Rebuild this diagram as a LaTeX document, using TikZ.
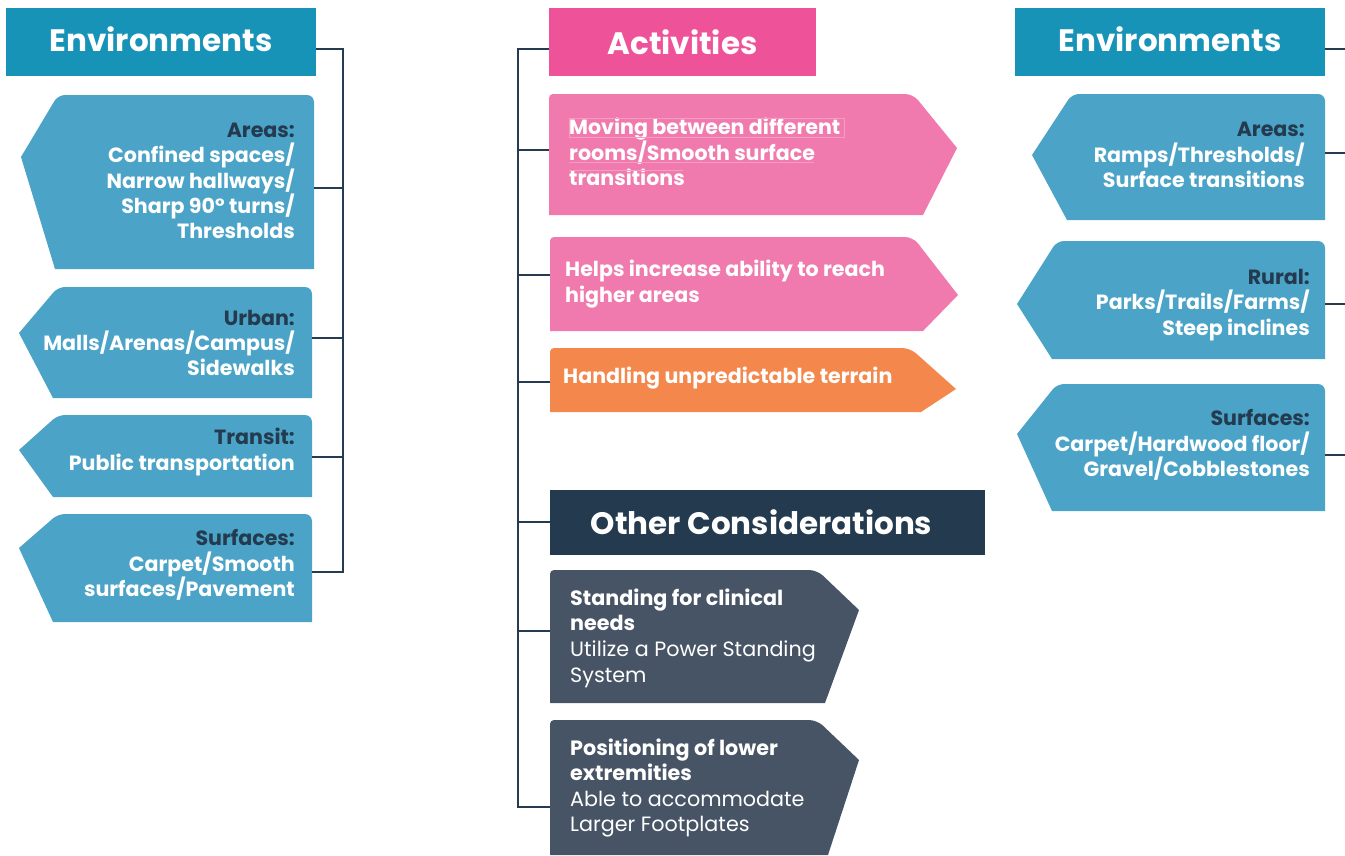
\documentclass[tikz,border=0pt]{standalone}
\usepackage{fontspec}
\setmainfont{Poppins}
\definecolor{envhdr}{HTML}{1893B8}
\definecolor{envbox}{HTML}{4BA4C7}
\definecolor{darkblue}{HTML}{233A4F}
\definecolor{acthdr}{HTML}{EE539A}
\definecolor{actbox}{HTML}{F07AAD}
\definecolor{actorange}{HTML}{F4874B}
\definecolor{greybox}{HTML}{475465}
\definecolor{connc}{HTML}{243B50}
\definecolor{linkline}{HTML}{F59CC3}
\tikzset{
  hdr/.style={inner sep=0pt, text=white, font=\fontsize{31}{36}\selectfont\bfseries},
  envtxt/.style={inner sep=0pt, anchor=east, align=right, text=white, font=\fontsize{20.6}{25.2}\selectfont\bfseries},
  acttxt/.style={inner sep=0pt, anchor=west, align=left, text=white, font=\fontsize{20.6}{25.5}\selectfont\bfseries},
  othtxt/.style={inner sep=0pt, anchor=west, align=left, text=white, font=\fontsize{20.7}{25.6}\selectfont},
  conn/.style={draw=connc, line width=2.4pt},
}
\newcommand{\ttl}[1]{\textcolor{darkblue}{#1}}
\begin{document}
\begin{tikzpicture}[x=1pt,y=-1pt]
\useasboundingbox (0,0) rectangle (1345,855);

% ---------- left column ----------
\node[hdr, fill=envhdr, minimum width=310pt, minimum height=68pt, text depth=6pt] (LH) at (161,42) {Environments};
\fill[envbox] (314,269) [rounded corners=7] -- (314,95) -- (58,95) [sharp corners] -- (21,157) -- (55,269) -- cycle;
\fill[envbox] (312,398) [rounded corners=7] -- (312,287) -- (58,287) [sharp corners] -- (19,333) -- (53,398) -- cycle;
\fill[envbox] (312,497) [rounded corners=7] -- (312,415) -- (58,415) [sharp corners] -- (19,450) -- (53,497) -- cycle;
\fill[envbox] (312,622) [rounded corners=7] -- (312,514) -- (58,514) [sharp corners] -- (19,548) -- (53,622) -- cycle;
\node[envtxt] (LA) at (295,181) {\ttl{Areas:}\\Confined spaces/\\Narrow hallways/\\Sharp 90° turns/\\Thresholds};
\node[envtxt] (LU) at (295,343) {\ttl{Urban:}\\Malls/Arenas/Campus/\\Sidewalks};
\node[envtxt] (LT) at (295,452) {\ttl{Transit:}\\Public transportation};
\node[envtxt] (LS) at (295,565) {\ttl{Surfaces:}\\Carpet/Smooth\\surfaces/Pavement};
\coordinate (LV) at (343,49);
\coordinate (LAr) at (314,188);
\coordinate (LUr) at (312,338);
\coordinate (LTr) at (312,457);
\coordinate (LSr) at (312,572);
\draw[conn] (LH.east |- LV) -- (LV) |- (LSr);
\draw[conn] (LAr) -- (LAr -| LV);
\draw[conn] (LUr) -- (LUr -| LV);
\draw[conn] (LTr) -- (LTr -| LV);

% ---------- middle column ----------
\node[hdr, fill=acthdr, minimum width=267pt, minimum height=68pt] (AH) at (682.5,42) {Activities};
\fill[actbox] (549,215) [rounded corners=4] -- (549,94) [rounded corners=8] -- (913,94) [sharp corners] -- (957,148) -- (923,215) -- cycle;
\fill[actbox] (550,331) [rounded corners=4] -- (550,237) [rounded corners=8] -- (913,237) [sharp corners] -- (958,295) -- (923,331) -- cycle;
\fill[actorange] (550,412) [rounded corners=4] -- (550,348) [rounded corners=8] -- (910,348) [sharp corners] -- (956,389) -- (921,412) -- cycle;
\node[acttxt] (A1) at (569,152) {Moving between different\\rooms/Smooth surface\\transitions};
\draw[linkline, line width=0.4pt] (569,118.5) rectangle (844,137);
\draw[linkline, line width=0.4pt] (569,162.5) -- (814,162.5);
\draw[linkline, line width=0.4pt] (569,170) -- (683,170);
\node[acttxt] (A2) at (565,284) {Helps increase ability to reach\\higher areas};
\node[acttxt] (A3) at (563,378) {Handling unpredictable terrain};

\node[hdr, fill=darkblue, minimum width=435pt, minimum height=65pt, text depth=0pt] (OH) at (767.5,522.5) {\hspace*{-12pt}Other Considerations};
\fill[greybox] (550,703) [rounded corners=4] -- (550,570) [rounded corners=8] -- (817,570) [sharp corners] -- (859,610) -- (825,703) -- cycle;
\fill[greybox] (550,855) [rounded corners=4] -- (550,720) [rounded corners=8] -- (817,720) [sharp corners] -- (859,760) -- (828,855) -- cycle;
\node[othtxt] (O1) at (570,638) {\textbf{Standing for clinical}\\\textbf{needs}\\Utilize a Power Standing\\System};
\node[othtxt] (O2) at (570,788) {\textbf{Positioning of lower}\\\textbf{extremities}\\Able to accommodate\\Larger Footplates};

\coordinate (MV) at (518,49);
\coordinate (MA1) at (549,150);
\coordinate (MA2) at (550,275);
\coordinate (MA3) at (550,382);
\coordinate (MOH) at (550,522);
\coordinate (MO1) at (550,631);
\coordinate (MO2) at (550,807);
\draw[conn] (AH.west |- MV) -- (MV) |- (MO2);
\draw[conn] (MA1) -- (MA1 -| MV);
\draw[conn] (MA2) -- (MA2 -| MV);
\draw[conn] (MA3) -- (MA3 -| MV);
\draw[conn] (MOH) -- (MOH -| MV);
\draw[conn] (MO1) -- (MO1 -| MV);

% ---------- right column ----------
\node[hdr, fill=envhdr, minimum width=310pt, minimum height=68pt, text depth=6pt] (RH) at (1170,42) {Environments};
\fill[envbox] (1325,220) [rounded corners=7] -- (1325,94) -- (1072,94) [sharp corners] -- (1032,155) -- (1067,220) -- cycle;
\fill[envbox] (1325,359) [rounded corners=7] -- (1325,241) -- (1057,241) [sharp corners] -- (1017,304) -- (1052,359) -- cycle;
\fill[envbox] (1325,511) [rounded corners=7] -- (1325,384) -- (1057,384) [sharp corners] -- (1017,434) -- (1052,511) -- cycle;
\node[envtxt] (RA) at (1305,155) {\ttl{Areas:}\\Ramps/Thresholds/\\Surface transitions};
\node[envtxt] (RR) at (1310,305) {\ttl{Rural:}\\Parks/Trails/Farms/\\Steep inclines};
\node[envtxt] (RS) at (1310,445) {\ttl{Surfaces:}\\Carpet/Hardwood floor/\\Gravel/Cobblestones};
\coordinate (RE) at (1345,0);
\coordinate (RHr) at (1325,49);
\coordinate (RAr) at (1325,153);
\coordinate (RRr) at (1325,304);
\coordinate (RSr) at (1325,455);
\draw[conn] (RHr) -- (RHr -| RE);
\draw[conn] (RAr) -- (RAr -| RE);
\draw[conn] (RRr) -- (RRr -| RE);
\draw[conn] (RSr) -- (RSr -| RE);
\end{tikzpicture}
\end{document}
